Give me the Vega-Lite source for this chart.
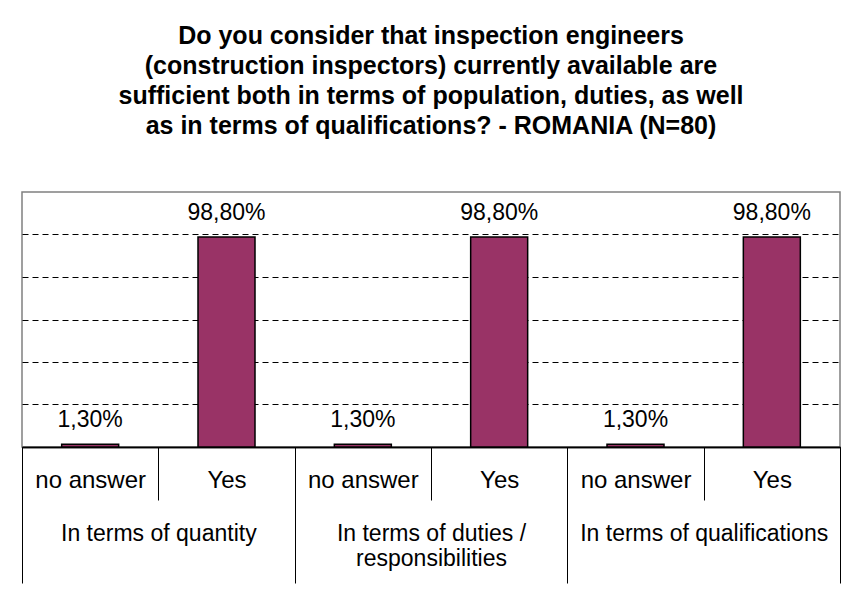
{
  "$schema": "https://vega.github.io/schema/vega-lite/v6.json",
  "width": 818,
  "height": 255,
  "autosize": {"type": "none"},
  "padding": {"left": 22, "top": 192, "right": 17, "bottom": 161},
  "background": "white",
  "title": {
    "text": ["Do you consider that inspection engineers", "(construction inspectors) currently available are", "sufficient both in terms of population, duties, as well", "as in terms of qualifications? - ROMANIA (N=80)"],
    "fontSize": 25,
    "fontWeight": "bold",
    "font": "Liberation Sans",
    "lineHeight": 30,
    "anchor": "middle",
    "offset": 53,
    "color": "black"
  },
  "data": {
    "values": [
      {"group": "In terms of quantity", "answer": "no answer", "key": "In terms of quantity|no answer", "value": 0.013},
      {"group": "In terms of quantity", "answer": "Yes", "key": "In terms of quantity|Yes", "value": 0.988},
      {"group": "In terms of duties / responsibilities", "answer": "no answer", "key": "In terms of duties / responsibilities|no answer", "value": 0.013},
      {"group": "In terms of duties / responsibilities", "answer": "Yes", "key": "In terms of duties / responsibilities|Yes", "value": 0.988},
      {"group": "In terms of qualifications", "answer": "no answer", "key": "In terms of qualifications|no answer", "value": 0.013},
      {"group": "In terms of qualifications", "answer": "Yes", "key": "In terms of qualifications|Yes", "value": 0.988}
    ]
  },
  "layer": [
    {
      "encoding": {
        "x": {
          "field": "key", "type": "nominal", "sort": null,
          "scale": {"paddingInner": 0, "paddingOuter": 0},
          "axis": {
            "orient": "bottom", "title": null, "labelAngle": 0,
            "tickBand": "extent", "tickSize": 53, "tickColor": "black", "tickWidth": 1,
            "domainColor": "black", "domainWidth": 1.5,
            "labelExpr": "split(datum.label, '|')[1]",
            "labelFont": "Liberation Sans", "labelFontSize": 24, "labelColor": "black",
            "labelPadding": -32, "labelBaseline": "top"
          }
        },
        "y": {
          "field": "value", "type": "quantitative",
          "scale": {"domain": [0, 1.2], "nice": false, "zero": true},
          "axis": {
            "title": null, "labels": false, "ticks": false, "domain": false,
            "grid": true, "values": [0.2, 0.4, 0.6, 0.8, 1.0],
            "gridColor": "black", "gridDash": [6, 4], "gridWidth": 1, "gridOpacity": 1
          }
        }
      },
      "layer": [
        {"mark": {"type": "bar", "width": 57, "color": "#993366", "stroke": "black", "strokeWidth": 1.5}},
        {
          "mark": {"type": "text", "baseline": "bottom", "dy": -12, "fontSize": 23, "font": "Liberation Sans", "color": "black"},
          "encoding": {"text": {"field": "value", "type": "quantitative", "format": ".2%"}}
        }
      ]
    },
    {
      "mark": {"type": "text", "opacity": 0, "text": ""},
      "encoding": {
        "x": {
          "field": "group", "type": "nominal", "sort": null,
          "scale": {"paddingInner": 0, "paddingOuter": 0},
          "axis": {
            "orient": "bottom", "title": null, "labelAngle": 0,
            "tickBand": "extent", "tickSize": 136, "tickColor": "black", "tickWidth": 1,
            "domainColor": "black", "domainWidth": 1.5,
            "labelExpr": "indexof(datum.label, '/ ') > 0 ? [slice(datum.label, 0, indexof(datum.label, '/ ') + 1), slice(datum.label, indexof(datum.label, '/ ') + 2)] : datum.label",
            "labelFont": "Liberation Sans", "labelFontSize": 23, "labelColor": "black",
            "labelLineHeight": 25, "labelPadding": -61, "labelBaseline": "top", "labelLimit": 280
          }
        }
      }
    }
  ],
  "resolve": {"scale": {"x": "independent"}, "axis": {"x": "independent"}},
  "config": {
    "locale": {"number": {"decimal": ",", "thousands": ".", "grouping": [3], "currency": ["", " €"]}},
    "view": {"stroke": "#808080", "strokeWidth": 1.5},
    "font": "Liberation Sans"
  }
}
